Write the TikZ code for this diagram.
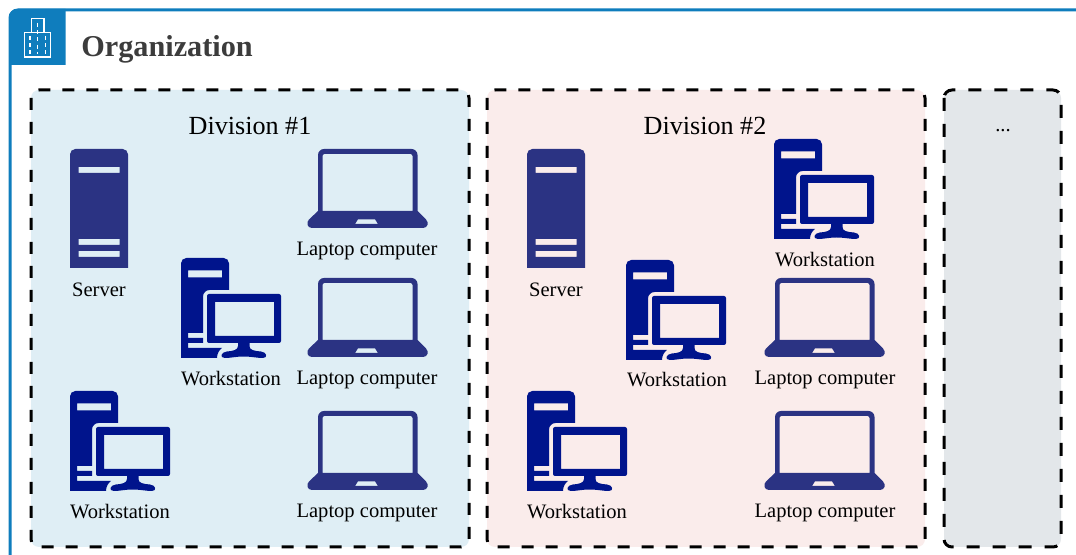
\documentclass[tikz,border=0pt]{standalone}
\usepackage{fontspec}
\setmainfont{Liberation Serif}
\usetikzlibrary{arrows.meta, calc}

\definecolor{awsblue}{HTML}{0F7DBD}
\definecolor{srvblue}{HTML}{2B3383}
\definecolor{wsblue}{HTML}{00148C}
\definecolor{divblue}{HTML}{DFEEF5}
\definecolor{divred}{HTML}{FAECEB}
\definecolor{divgray}{HTML}{E3E7EA}
\definecolor{titlegray}{HTML}{3C3C3C}

\tikzset{
    division/.style={draw=black, line width=2.25pt, dash pattern=on 9pt off 9pt, rounded corners=6pt},
    devlabel/.style={font=\fontsize{15.4}{17}\selectfont, inner sep=0pt},
    divlabel/.style={font=\fontsize{19.6}{22}\selectfont, inner sep=0pt},
    server/.pic={
        \fill[srvblue, even odd rule]
            (0,119) [rounded corners=4pt] -- (0,0) -- (58,0) [sharp corners] -- (58,119) -- cycle
            (8.5,18) rectangle (49.5,24)
            (8.5,90) rectangle (49.5,96)
            (8.5,102) rectangle (49.5,108);
    },
    workstation/.pic={
        % tower, open where the monitor sits
        \fill[wsblue, even odd rule]
            (0,100) [rounded corners=4pt] -- (0,0) -- (48,0) [sharp corners] -- (48,32)
            [rounded corners=5pt] -- (22,32) [sharp corners] -- (22,75) -- (7,75) -- (7,80) -- (22,80)
            -- (22,85) -- (7,85) -- (7,90) -- (41,90) .. controls (38,92) and (36,96) .. (36,100) -- cycle
            (7,12.5) rectangle (41,19.5);
        % monitor
        \fill[wsblue, even odd rule]
            (26,85) [rounded corners=1.5pt] -- (26,36) -- (100,36) -- (100,85) -- cycle
            (34,44) [sharp corners] rectangle (93,78);
        % stand
        \fill[wsblue] (57,85) -- (57,88) .. controls (57,92) and (52,93) .. (46,93.5)
            .. controls (40,94) and (38,100) .. (44,100)
            .. controls (50,100) and (55,98.5) .. (62.7,98.5)
            .. controls (70,98.5) and (76,100) .. (82,100)
            .. controls (87,100) and (86,94) .. (80,93.5)
            .. controls (73,93) and (68.5,92) .. (68.5,88) -- (68.5,85) -- cycle;
    },
    laptop/.pic={
        \fill[srvblue, even odd rule]
            (10,62) [rounded corners=4.5pt] -- (10,0) -- (109.5,0) [sharp corners] -- (109.5,62)
            -- (118,70.5) .. controls (121,73.5) and (120,79) .. (115,79) -- (4,79)
            .. controls (-1,79) and (-2,73.5) .. (1,70.5) -- cycle
            (14.5,62) [rounded corners=1.5pt] -- (14.5,5) -- (104.5,5) [sharp corners] -- (104.5,62) -- cycle
            (50,70.3) -- (67,70.3) -- (70,75) -- (47,75) -- cycle;
    },
}

\begin{document}
\begin{tikzpicture}[x=0.75pt, y=-0.75pt]
    \useasboundingbox (0,0) rectangle (1076,555);
    \clip (0,0) rectangle (1076,555);

    % organization frame
    \fill[white] (0,0) rectangle (1076,555);
    \draw[awsblue, line width=2.25pt, rounded corners=6pt] (10,600) -- (10,10) -- (1100,10);
    \fill[awsblue, rounded corners=6pt] (9,65) -- (9,9) -- (40,9) [sharp corners] -- (65.5,9) -- (65.5,65) -- cycle;
    \draw[white, line width=0.9pt] (24.5,57) rectangle (50.5,32.5) (31.5,32.5) -- (31.5,18.5) -- (44,18.5) -- (44,32.5);
    \draw[white, line width=0.9pt, dash pattern=on 3pt off 2.4pt] (37.8,23) -- (37.8,54) (30,36) -- (30,54) (45.5,36) -- (45.5,54);
    \node[anchor=base west, inner sep=0pt, text=titlegray, font=\fontsize{22.7}{26}\selectfont\bfseries] (orgtitle) at (81,57) {Organization};

    % divisions
    \draw[division, fill=divblue] (31,90) rectangle (469,547);
    \draw[division, fill=divred] (487,90) rectangle (925,547);
    \draw[division, fill=divgray, dash pattern=on 9.75pt off 9.75pt] (944,90) rectangle (1061,547);
    \node[divlabel] (divone) at (250,126) {Division \#1};
    \node[divlabel] (divtwo) at (705,126) {Division \#2};
    \node[devlabel] (divmore) at (1003,131) {...};

    % first division
    \pic at (70,149) {server};
    \node[devlabel] (srvone) at (99,290) {Server};
    \pic at (181,258) {workstation};
    \node[devlabel] (wsone) at (231,379) {Workstation};
    \pic at (70,391) {workstation};
    \node[devlabel] (wstwo) at (120,512) {Workstation};
    \pic at (308,149) {laptop};
    \node[devlabel] (lapone) at (367,251) {Laptop computer};
    \pic at (308,278) {laptop};
    \node[devlabel] (laptwo) at (367,380) {Laptop computer};
    \pic at (308,411) {laptop};
    \node[devlabel] (lapthree) at (367,513) {Laptop computer};

    % second division
    \pic at (527,149) {server};
    \node[devlabel] (srvtwo) at (556,290) {Server};
    \pic at (774,139) {workstation};
    \node[devlabel] (wsthree) at (825,260) {Workstation};
    \pic at (626,260) {workstation};
    \node[devlabel] (wsfour) at (677,380) {Workstation};
    \pic at (527,391) {workstation};
    \node[devlabel] (wsfive) at (577,512) {Workstation};
    \pic at (765,278) {laptop};
    \node[devlabel] (lapfour) at (825,380) {Laptop computer};
    \pic at (765,411) {laptop};
    \node[devlabel] (lapfive) at (825,513) {Laptop computer};
\end{tikzpicture}
\end{document}
